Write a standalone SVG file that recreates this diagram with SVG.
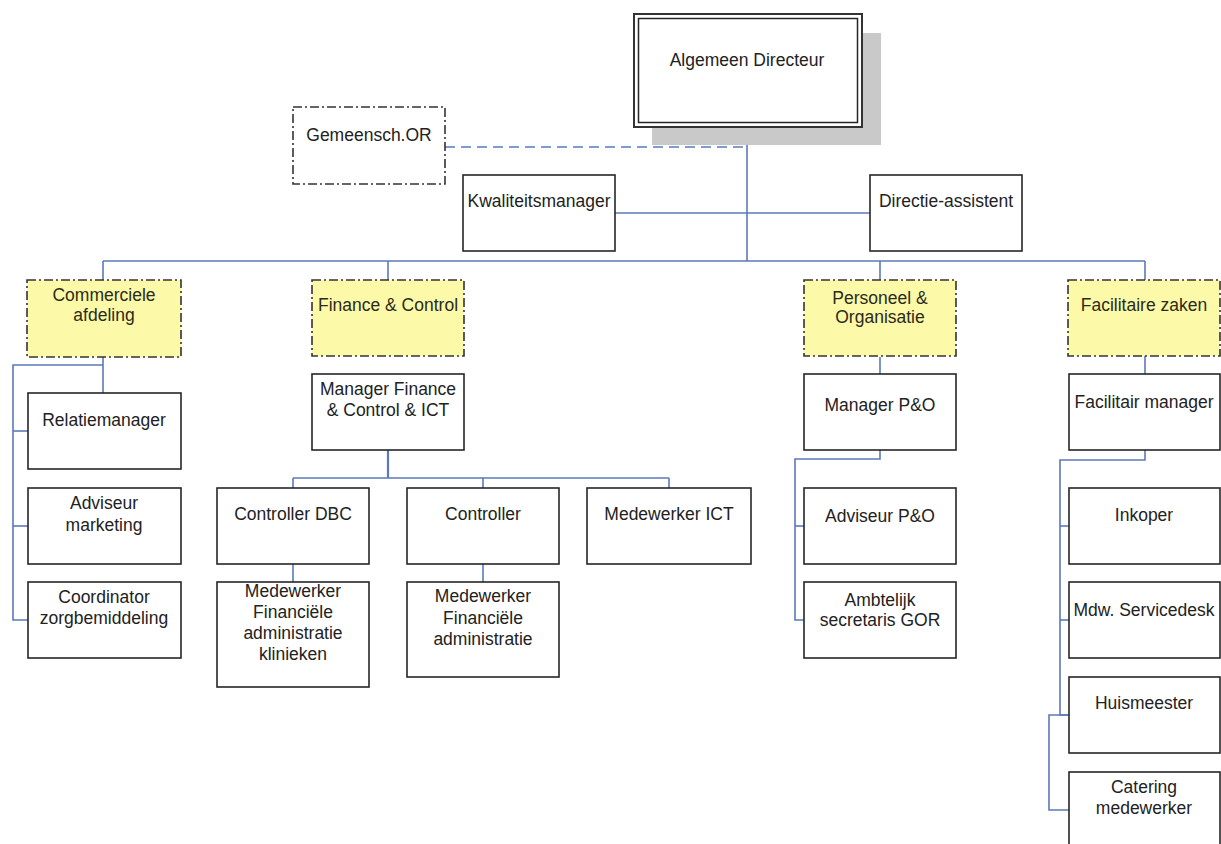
<svg xmlns="http://www.w3.org/2000/svg" width="1221" height="844" viewBox="0 0 1221 844">
<style>
  .box { fill: #ffffff; stroke: #262626; stroke-width: 1.6; }
  .dept { fill: #fcf9a8; stroke: #333333; stroke-width: 1.6; stroke-dasharray: 9 3 2 3; }
  .or { fill: #ffffff; stroke: #333333; stroke-width: 1.6; stroke-dasharray: 9 3 2 3; }
  .t { font-family: "Liberation Sans", Arial, sans-serif; font-size: 17.5px; fill: #222222; text-anchor: middle; }
  .td { font-family: "Liberation Sans", Arial, sans-serif; font-size: 17.5px; fill: #2b2b1a; text-anchor: middle; }
  .c { fill: none; stroke: #5b79b9; stroke-width: 1.6; }
  .cd { fill: none; stroke: #5b79b9; stroke-width: 1.6; stroke-dasharray: 10 6; }
</style>
<rect x="0" y="0" width="1221" height="844" fill="#ffffff"/>

<g id="connectors">
  <!-- top -->
  <line class="c" x1="747" y1="127" x2="747" y2="261"/>
  <line class="cd" x1="445" y1="147" x2="747" y2="147"/>
  <line class="c" x1="615" y1="213" x2="870" y2="213"/>
  <line class="c" x1="103" y1="261" x2="1145" y2="261"/>
  <line class="c" x1="103" y1="261" x2="103" y2="280"/>
  <line class="c" x1="388" y1="261" x2="388" y2="280"/>
  <line class="c" x1="880" y1="261" x2="880" y2="280"/>
  <line class="c" x1="1145" y1="261" x2="1145" y2="280"/>
  <!-- Commerciele -->
  <line class="c" x1="103" y1="357" x2="103" y2="393"/>
  <polyline class="c" points="103,365 13,365 13,620 28,620"/>
  <line class="c" x1="13" y1="431" x2="28" y2="431"/>
  <line class="c" x1="13" y1="526" x2="28" y2="526"/>
  <!-- Finance -->
  <line class="c" x1="388" y1="450" x2="388" y2="478" style="stroke-width:2.2"/>
  <line class="c" x1="293" y1="478" x2="669" y2="478"/>
  <line class="c" x1="293" y1="478" x2="293" y2="488"/>
  <line class="c" x1="483" y1="478" x2="483" y2="488"/>
  <line class="c" x1="669" y1="478" x2="669" y2="488"/>
  <line class="c" x1="293" y1="564" x2="293" y2="582"/>
  <line class="c" x1="483" y1="564" x2="483" y2="582"/>
  <!-- P&O -->
  <line class="c" x1="880" y1="357" x2="880" y2="374"/>
  <polyline class="c" points="880,450 880,459 795,459 795,620 804,620"/>
  <line class="c" x1="795" y1="526" x2="804" y2="526"/>
  <!-- Facilitaire -->
  <line class="c" x1="1145" y1="356" x2="1145" y2="374"/>
  <polyline class="c" points="1145,450 1145,460 1060,460 1060,715 1069,715"/>
  <line class="c" x1="1060" y1="526" x2="1069" y2="526"/>
  <line class="c" x1="1060" y1="620" x2="1069" y2="620"/>
  <polyline class="c" points="1069,715 1049,715 1049,810 1069,810"/>
</g>

<g id="algemeen-directeur">
  <rect x="652" y="33" width="229" height="112" fill="#c9c9c9"/>
  <rect x="634" y="14" width="228" height="113" fill="#ffffff" stroke="#333333" stroke-width="2"/>
  <rect x="638.5" y="18.5" width="219" height="104" fill="none" stroke="#262626" stroke-width="1.5"/>
  <text class="t" x="747" y="66">Algemeen Directeur</text>
</g>

<g id="gemeensch-or">
  <rect class="or" x="293" y="107" width="152" height="77"/>
  <text class="t" x="369" y="141">Gemeensch.OR</text>
</g>

<g id="kwaliteitsmanager">
  <rect class="box" x="463" y="175" width="152" height="76"/>
  <text class="t" x="539" y="207">Kwaliteitsmanager</text>
</g>

<g id="directie-assistent">
  <rect class="box" x="870" y="175" width="152" height="76"/>
  <text class="t" x="946" y="207">Directie-assistent</text>
</g>

<g id="commerciele-afdeling">
  <rect class="dept" x="27" y="280" width="154" height="77"/>
  <text class="td" x="104" y="301">Commerciele</text>
  <text class="td" x="104" y="321">afdeling</text>
</g>

<g id="relatiemanager">
  <rect class="box" x="28" y="393" width="153" height="76"/>
  <text class="t" x="104" y="426">Relatiemanager</text>
</g>

<g id="adviseur-marketing">
  <rect class="box" x="28" y="488" width="153" height="76"/>
  <text class="t" x="104" y="509">Adviseur</text>
  <text class="t" x="104" y="531">marketing</text>
</g>

<g id="coordinator">
  <rect class="box" x="28" y="582" width="153" height="76"/>
  <text class="t" x="104" y="603">Coordinator</text>
  <text class="t" x="104" y="624">zorgbemiddeling</text>
</g>

<g id="finance-control">
  <rect class="dept" x="312" y="280" width="152" height="76"/>
  <text class="td" x="388" y="311">Finance &amp; Control</text>
</g>

<g id="manager-finance">
  <rect class="box" x="312" y="374" width="152" height="76"/>
  <text class="t" x="388" y="395">Manager Finance</text>
  <text class="t" x="388" y="416">&amp; Control &amp; ICT</text>
</g>

<g id="controller-dbc">
  <rect class="box" x="217" y="488" width="152" height="76"/>
  <text class="t" x="293" y="520">Controller DBC</text>
</g>

<g id="controller">
  <rect class="box" x="407" y="488" width="152" height="76"/>
  <text class="t" x="483" y="520">Controller</text>
</g>

<g id="medewerker-ict">
  <rect class="box" x="587" y="488" width="164" height="76"/>
  <text class="t" x="669" y="520">Medewerker ICT</text>
</g>

<g id="medewerker-fin-klinieken">
  <rect class="box" x="217" y="582" width="152" height="105"/>
  <text class="t" x="293" y="597">Medewerker</text>
  <text class="t" x="293" y="618">Financiële</text>
  <text class="t" x="293" y="639">administratie</text>
  <text class="t" x="293" y="660">klinieken</text>
</g>

<g id="medewerker-fin-admin">
  <rect class="box" x="407" y="582" width="152" height="95"/>
  <text class="t" x="483" y="602">Medewerker</text>
  <text class="t" x="483" y="624">Financiële</text>
  <text class="t" x="483" y="645">administratie</text>
</g>

<g id="personeel-organisatie">
  <rect class="dept" x="804" y="280" width="152" height="76"/>
  <text class="td" x="880" y="304">Personeel &amp;</text>
  <text class="td" x="880" y="323">Organisatie</text>
</g>

<g id="manager-po">
  <rect class="box" x="804" y="374" width="152" height="76"/>
  <text class="t" x="880" y="411">Manager P&amp;O</text>
</g>

<g id="adviseur-po">
  <rect class="box" x="804" y="488" width="152" height="76"/>
  <text class="t" x="880" y="522">Adviseur P&amp;O</text>
</g>

<g id="ambtelijk-secretaris">
  <rect class="box" x="804" y="582" width="152" height="76"/>
  <text class="t" x="880" y="606">Ambtelijk</text>
  <text class="t" x="880" y="626">secretaris GOR</text>
</g>

<g id="facilitaire-zaken">
  <rect class="dept" x="1068" y="280" width="152" height="76"/>
  <text class="td" x="1144" y="311">Facilitaire zaken</text>
</g>

<g id="facilitair-manager">
  <rect class="box" x="1069" y="374" width="151" height="76"/>
  <text class="t" x="1144" y="408">Facilitair manager</text>
</g>

<g id="inkoper">
  <rect class="box" x="1069" y="488" width="151" height="76"/>
  <text class="t" x="1144" y="521">Inkoper</text>
</g>

<g id="mdw-servicedesk">
  <rect class="box" x="1069" y="582" width="151" height="76"/>
  <text class="t" x="1144" y="616">Mdw. Servicedesk</text>
</g>

<g id="huismeester">
  <rect class="box" x="1069" y="677" width="151" height="76"/>
  <text class="t" x="1144" y="709">Huismeester</text>
</g>

<g id="catering-medewerker">
  <rect class="box" x="1069" y="772" width="151" height="76"/>
  <text class="t" x="1144" y="793">Catering</text>
  <text class="t" x="1144" y="814">medewerker</text>
</g>
</svg>
